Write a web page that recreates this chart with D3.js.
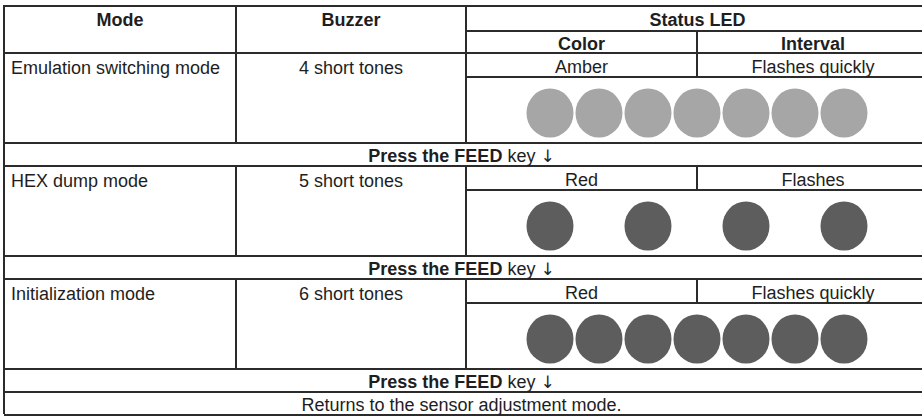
<!DOCTYPE html>
<html><head><meta charset="utf-8">
<script src="https://cdn.jsdelivr.net/npm/d3@7"></script>
<style>
html,body{margin:0;padding:0;background:#fff;}
svg{display:block;font-family:"Liberation Sans",Arial,Helvetica,sans-serif;}
</style></head>
<body><svg id="c" width="922" height="418"></svg>
<script>
// ---- data ----
const headerCols = ["Mode", "Buzzer", "Status LED"];
const ledSubHeaders = ["Color", "Interval"];
const modes = ["Emulation switching mode", "HEX dump mode", "Initialization mode"];
const buzzer = ["4 short tones", "5 short tones", "6 short tones"];
const ledColor = ["Amber", "Red", "Red"];
const ledInterval = ["Flashes quickly", "Flashes", "Flashes quickly"];
// lit LED slots in the blink sketch (1 = drawn)
const ledPattern = [
  [1, 1, 1, 1, 1, 1, 1],
  [1, 0, 1, 0, 1, 0, 1],
  [1, 1, 1, 1, 1, 1, 1]
];
const ledFill = ["#a6a6a6", "#5d5d5d", "#5d5d5d"];
const pressBold = "Press the FEED";
const pressRest = " key ";
const pressArrow = "\u2193";
const footer = "Returns to the sensor adjustment mode.";

(function () {
// ---- layout ----
const svg = d3.select("#c");
const L = 4, R = 929;
const colX = d3.scaleOrdinal().domain(["mode", "buzzer", "led", "interval", "end"]).range([L, 236, 466, 697, R]);
const tableTop = 6, ledHeadBottom = 31, headBottom = 53;
const blockH = 113, subH = 24, bandH = 66;
const blockTop = i => headBottom + i * blockH;
const lineColor = "#2b2b2b", textColor = "#1e1e1e", fs = 18;

const lines = svg.append("g").attr("stroke", lineColor).attr("stroke-width", 2);
function hl(x1, x2, y) { lines.append("line").attr("x1", x1).attr("x2", x2).attr("y1", y).attr("y2", y); }
function vl(x, y1, y2) { lines.append("line").attr("x1", x).attr("x2", x).attr("y1", y1).attr("y2", y2); }
function txt(s, x, y, anchor, weight) {
  return svg.append("text").attr("x", x).attr("y", y).attr("text-anchor", anchor)
    .attr("font-size", fs).attr("font-weight", weight || "normal").attr("fill", textColor).text(s);
}

const mid = (a, b) => (colX(a) + colX(b)) / 2;
txt(headerCols[0], mid("mode", "buzzer"), tableTop + 20, "middle", "bold");
txt(headerCols[1], mid("buzzer", "led"), tableTop + 20, "middle", "bold");
txt(headerCols[2], mid("led", "end"), tableTop + 20, "middle", "bold");
txt(ledSubHeaders[0], mid("led", "interval"), ledHeadBottom + 19, "middle", "bold");
txt(ledSubHeaders[1], mid("interval", "end"), ledHeadBottom + 19, "middle", "bold");

hl(L, R, tableTop);
hl(colX("led"), R, ledHeadBottom);
hl(L, R, headBottom);
vl(L, tableTop - 1, 414);
vl(colX("buzzer"), tableTop, headBottom);
vl(colX("led"), tableTop, headBottom);
vl(colX("interval"), ledHeadBottom, headBottom);

const xLed = d3.scalePoint().domain(d3.range(7)).range([550, 844]);
const rx = 23.5, ry = 24.5;

modes.forEach((m, i) => {
  const T = blockTop(i);
  const bandTop = T + subH, bandBot = bandTop + bandH, pressBot = bandBot + 23;
  txt(m, L + 7, T + 21, "start");
  txt(buzzer[i], mid("buzzer", "led"), T + 21, "middle");
  txt(ledColor[i], mid("led", "interval"), T + 20, "middle");
  txt(ledInterval[i], mid("interval", "end"), T + 20, "middle");
  svg.append("g").selectAll("ellipse")
    .data(ledPattern[i].map((v, k) => ({ v, k })).filter(d => d.v))
    .join("ellipse")
    .attr("cx", d => xLed(d.k)).attr("cy", (bandTop + bandBot) / 2 + 3)
    .attr("rx", rx).attr("ry", ry).attr("fill", ledFill[i]);
  hl(colX("led"), R, bandTop);
  hl(L, R, bandBot);
  hl(L, R, pressBot);
  vl(colX("buzzer"), T, bandBot);
  vl(colX("led"), T, bandBot);
  vl(colX("interval"), T, bandTop);
  const t = svg.append("text").attr("x", (L + R) / 2 - 5).attr("y", bandBot + 19)
    .attr("text-anchor", "middle").attr("font-size", fs).attr("fill", textColor);
  t.append("tspan").attr("font-weight", "bold").text(pressBold);
  t.append("tspan").text(pressRest);
  t.append("tspan").attr("font-family", "DejaVu Sans").attr("font-size", 17).text(pressArrow);
});

const fTop = blockTop(3);
txt(footer, (L + R) / 2 - 5, fTop + 19, "middle");
hl(L, R, fTop + 23);
})();
</script></body></html>
